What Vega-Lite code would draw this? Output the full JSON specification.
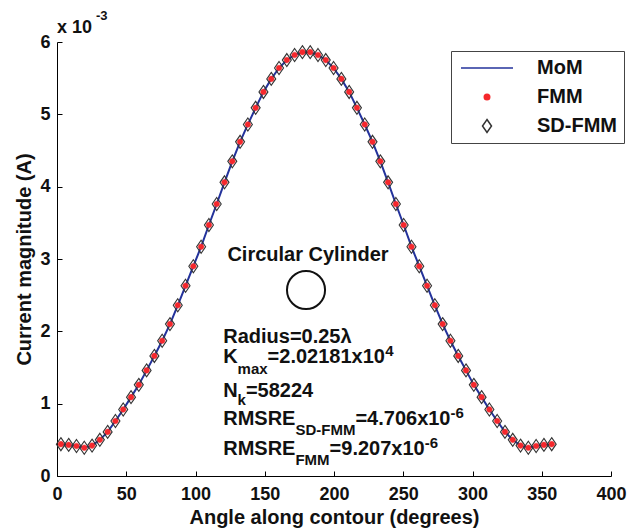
{
  "$schema": "https://vega.github.io/schema/vega-lite/v6.json",
  "width": 554,
  "height": 434,
  "autosize": {"type": "none"},
  "padding": {"left": 57, "top": 42, "right": 23, "bottom": 53},
  "background": "white",
  "config": {
    "view": {"stroke": null},
    "font": "Liberation Sans",
    "axis": {
      "grid": false,
      "domainColor": "#000",
      "domainWidth": 1,
      "tickColor": "#000",
      "tickWidth": 1,
      "tickSize": -5,
      "labelFont": "Liberation Sans",
      "labelFontWeight": "bold",
      "labelFontSize": 18,
      "labelColor": "#111",
      "labelFlush": false,
      "labelOverlap": false,
      "titleFont": "Liberation Sans",
      "titleFontWeight": "bold",
      "titleFontSize": 20,
      "titleColor": "#111"
    },
    "legend": {
      "padding": 7,
      "rowPadding": 9,
      "symbolOffset": 19,
      "labelOffset": 40,
      "labelFont": "Liberation Sans",
      "labelFontSize": 20,
      "labelFontWeight": "bold",
      "labelColor": "#111",
      "strokeColor": "#444",
      "fillColor": "white",
      "symbolSize": 100,
      "symbolStrokeWidth": 1.5
    },
    "text": {"font": "Liberation Sans", "fontWeight": "bold", "fontSize": 20, "align": "left", "baseline": "alphabetic", "color": "#111"}
  },
  "datasets": {
    "current": [
      {"angle": 2.81, "current": 0.00044},
      {"angle": 8.44, "current": 0.00043},
      {"angle": 14.06, "current": 0.000415},
      {"angle": 19.69, "current": 0.00039},
      {"angle": 25.31, "current": 0.00042},
      {"angle": 30.94, "current": 0.0005},
      {"angle": 36.56, "current": 0.00061},
      {"angle": 42.19, "current": 0.00076},
      {"angle": 47.81, "current": 0.00092},
      {"angle": 53.44, "current": 0.00109},
      {"angle": 59.06, "current": 0.00126},
      {"angle": 64.69, "current": 0.00146},
      {"angle": 70.31, "current": 0.00166},
      {"angle": 75.94, "current": 0.00187},
      {"angle": 81.56, "current": 0.0021},
      {"angle": 87.19, "current": 0.00236},
      {"angle": 92.81, "current": 0.00263},
      {"angle": 98.44, "current": 0.0029},
      {"angle": 104.06, "current": 0.00317},
      {"angle": 109.69, "current": 0.00347},
      {"angle": 115.31, "current": 0.00376},
      {"angle": 120.94, "current": 0.00406},
      {"angle": 126.56, "current": 0.00435},
      {"angle": 132.19, "current": 0.00462},
      {"angle": 137.81, "current": 0.00486},
      {"angle": 143.44, "current": 0.00509},
      {"angle": 149.06, "current": 0.00531},
      {"angle": 154.69, "current": 0.00549},
      {"angle": 160.31, "current": 0.00564},
      {"angle": 165.94, "current": 0.00575},
      {"angle": 171.56, "current": 0.00582},
      {"angle": 177.19, "current": 0.00586},
      {"angle": 182.81, "current": 0.00586},
      {"angle": 188.44, "current": 0.00582},
      {"angle": 194.06, "current": 0.00575},
      {"angle": 199.69, "current": 0.00564},
      {"angle": 205.31, "current": 0.00549},
      {"angle": 210.94, "current": 0.00531},
      {"angle": 216.56, "current": 0.00509},
      {"angle": 222.19, "current": 0.00486},
      {"angle": 227.81, "current": 0.00462},
      {"angle": 233.44, "current": 0.00435},
      {"angle": 239.06, "current": 0.00406},
      {"angle": 244.69, "current": 0.00376},
      {"angle": 250.31, "current": 0.00347},
      {"angle": 255.94, "current": 0.00317},
      {"angle": 261.56, "current": 0.0029},
      {"angle": 267.19, "current": 0.00263},
      {"angle": 272.81, "current": 0.00236},
      {"angle": 278.44, "current": 0.0021},
      {"angle": 284.06, "current": 0.00187},
      {"angle": 289.69, "current": 0.00166},
      {"angle": 295.31, "current": 0.00146},
      {"angle": 300.94, "current": 0.00126},
      {"angle": 306.56, "current": 0.00109},
      {"angle": 312.19, "current": 0.00092},
      {"angle": 317.81, "current": 0.00076},
      {"angle": 323.44, "current": 0.00061},
      {"angle": 329.06, "current": 0.0005},
      {"angle": 334.69, "current": 0.00042},
      {"angle": 340.31, "current": 0.00039},
      {"angle": 345.94, "current": 0.000415},
      {"angle": 351.56, "current": 0.00043},
      {"angle": 357.19, "current": 0.00044}
    ]
  },
  "layer": [
    {
      "data": {"name": "current"},
      "mark": {"type": "line", "strokeWidth": 2},
      "encoding": {
        "x": {"field": "angle", "type": "quantitative", "scale": {"domain": [0, 400], "nice": false, "zero": false},
          "axis": {"values": [0, 50, 100, 150, 200, 250, 300, 350, 400], "title": "Angle along contour (degrees)", "labelPadding": 14, "titlePadding": 4}},
        "y": {"field": "current", "type": "quantitative", "scale": {"domain": [0, 0.006], "nice": false},
          "axis": {"values": [0, 0.001, 0.002, 0.003, 0.004, 0.005, 0.006], "labelExpr": "round(datum.value*1000)", "title": "Current magnitude (A)", "labelPadding": 12, "titlePadding": 5}},
        "stroke": {"datum": "MoM", "scale": {"domain": ["MoM", "FMM", "SD-FMM"], "range": ["#23329b", "#f5282c", "#333333"]},
          "legend": {"title": null, "orient": "none", "legendX": 394, "legendY": 9}}
      }
    },
    {
      "data": {"name": "current"},
      "mark": {"type": "point", "filled": true, "size": 105, "strokeWidth": 0.5, "opacity": 1},
      "encoding": {
        "x": {"field": "angle", "type": "quantitative"},
        "y": {"field": "current", "type": "quantitative"},
        "stroke": {"datum": "FMM", "scale": {"domain": ["MoM", "FMM", "SD-FMM"], "range": ["#23329b", "#f5282c", "#333333"]},
          "legend": {"title": null, "orient": "none", "legendX": 394, "legendY": 9}},
        "fill": {"datum": "FMM", "scale": {"domain": ["MoM", "FMM", "SD-FMM"], "range": ["transparent", "#f5282c", "transparent"]},
          "legend": {"title": null, "orient": "none", "legendX": 394, "legendY": 9}},
        "shape": {"datum": "FMM", "scale": {"domain": ["MoM", "FMM", "SD-FMM"], "range": ["M-5.2,0L5.2,0", "M-0.55,0A0.55,0.55,0,1,1,0.55,0A0.55,0.55,0,1,1,-0.55,0Z", "M0,-1.3L0.9,0L0,1.3L-0.9,0Z"]},
          "legend": {"title": null, "orient": "none", "legendX": 394, "legendY": 9}}
      }
    },
    {
      "data": {"name": "current"},
      "mark": {"type": "point", "filled": false, "size": 100, "strokeWidth": 1.1, "opacity": 1},
      "encoding": {
        "x": {"field": "angle", "type": "quantitative"},
        "y": {"field": "current", "type": "quantitative"},
        "stroke": {"datum": "SD-FMM"},
        "fill": {"datum": "SD-FMM"},
        "shape": {"datum": "SD-FMM"}
      }
    },
    {"data": {"values": [{}]}, "mark": {"type": "text", "text": "x 10", "fontSize": 18, "dy": -9}, "encoding": {"x": {"datum": 0}, "y": {"datum": 0.006}}},
    {"data": {"values": [{}]}, "mark": {"type": "text", "text": "-3", "fontSize": 13, "dx": 39, "dy": -22}, "encoding": {"x": {"datum": 0}, "y": {"datum": 0.006}}},
    {"data": {"values": [{}]}, "mark": {"type": "text", "text": "Circular Cylinder", "align": "center"}, "encoding": {"x": {"datum": 181.2}, "y": {"datum": 0.002977}}},
    {"data": {"values": [{}]}, "mark": {"type": "point", "shape": "circle", "size": 1450, "strokeWidth": 2, "color": "#111", "filled": false, "opacity": 1}, "encoding": {"x": {"datum": 179.8}, "y": {"datum": 0.002572}}},
    {"data": {"values": [{}]}, "mark": {"type": "text", "text": "Radius=0.25λ"}, "encoding": {"x": {"datum": 120}, "y": {"datum": 0.00184}}},
    {"data": {"values": [{}]}, "mark": {"type": "text", "text": "K"}, "encoding": {"x": {"datum": 120}, "y": {"datum": 0.00156}}},
    {"data": {"values": [{}]}, "mark": {"type": "text", "text": "max", "fontSize": 15, "dx": 14.4, "dy": 11}, "encoding": {"x": {"datum": 120}, "y": {"datum": 0.00156}}},
    {"data": {"values": [{}]}, "mark": {"type": "text", "text": "=2.02181x10", "dx": 44.4}, "encoding": {"x": {"datum": 120}, "y": {"datum": 0.00156}}},
    {"data": {"values": [{}]}, "mark": {"type": "text", "text": "4", "fontSize": 15, "dx": 162, "dy": -7}, "encoding": {"x": {"datum": 120}, "y": {"datum": 0.00156}}},
    {"data": {"values": [{}]}, "mark": {"type": "text", "text": "N"}, "encoding": {"x": {"datum": 120}, "y": {"datum": 0.00109}}},
    {"data": {"values": [{}]}, "mark": {"type": "text", "text": "k", "fontSize": 15, "dx": 14.4, "dy": 8}, "encoding": {"x": {"datum": 120}, "y": {"datum": 0.00109}}},
    {"data": {"values": [{}]}, "mark": {"type": "text", "text": "=58224", "dx": 22.7}, "encoding": {"x": {"datum": 120}, "y": {"datum": 0.00109}}},
    {"data": {"values": [{}]}, "mark": {"type": "text", "text": "RMSRE"}, "encoding": {"x": {"datum": 120}, "y": {"datum": 0.000705}}},
    {"data": {"values": [{}]}, "mark": {"type": "text", "text": "SD-FMM", "fontSize": 15, "dx": 72.2, "dy": 10}, "encoding": {"x": {"datum": 120}, "y": {"datum": 0.000705}}},
    {"data": {"values": [{}]}, "mark": {"type": "text", "text": "=4.706x10", "dx": 132.2}, "encoding": {"x": {"datum": 120}, "y": {"datum": 0.000705}}},
    {"data": {"values": [{}]}, "mark": {"type": "text", "text": "-6", "fontSize": 15, "dx": 227.3, "dy": -7}, "encoding": {"x": {"datum": 120}, "y": {"datum": 0.000705}}},
    {"data": {"values": [{}]}, "mark": {"type": "text", "text": "RMSRE"}, "encoding": {"x": {"datum": 120}, "y": {"datum": 0.00029}}},
    {"data": {"values": [{}]}, "mark": {"type": "text", "text": "FMM", "fontSize": 15, "dx": 72.2, "dy": 10}, "encoding": {"x": {"datum": 120}, "y": {"datum": 0.00029}}},
    {"data": {"values": [{}]}, "mark": {"type": "text", "text": "=9.207x10", "dx": 106.4}, "encoding": {"x": {"datum": 120}, "y": {"datum": 0.00029}}},
    {"data": {"values": [{}]}, "mark": {"type": "text", "text": "-6", "fontSize": 15, "dx": 201.5, "dy": -7}, "encoding": {"x": {"datum": 120}, "y": {"datum": 0.00029}}}
  ]
}
